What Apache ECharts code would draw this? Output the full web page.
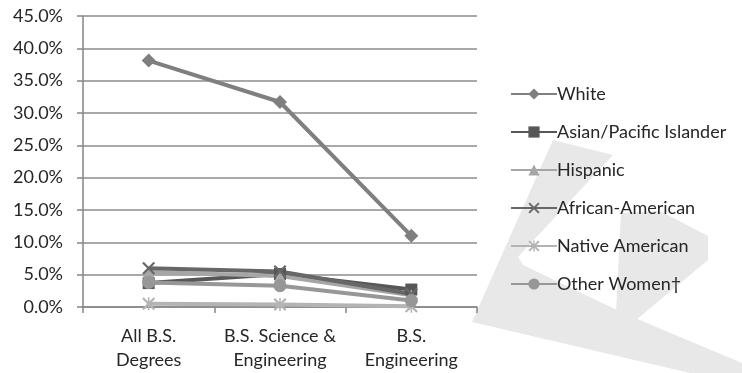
<!DOCTYPE html>
<html>
<head>
<meta charset="utf-8">
<script src="https://cdn.jsdelivr.net/npm/echarts@6/dist/echarts.min.js"></script>
<style>
  html, body { margin: 0; padding: 0; background: #ffffff; }
  #chart { width: 742px; height: 373px; }
</style>
</head>
<body>
<div id="chart"></div>
<script>
// Share of degrees earned by women, by group
const categories = ['All B.S.\nDegrees', 'B.S. Science &\nEngineering', 'B.S.\nEngineering'];
const seriesNames = ['White', 'Asian/Pacific Islander', 'Hispanic', 'African-American', 'Native American', 'Other Women\u2020'];
const white = [38.1, 31.7, 11.0];
const asianPacific = [3.7, 5.1, 2.7];
const hispanic = [5.4, 4.8, 1.8];
const africanAmerican = [6.0, 5.5, 2.0];
const nativeAmerican = [0.5, 0.4, 0.1];
const otherWomen = [3.8, 3.3, 1.0];
const yTicks = { min: 0, max: 45, step: 5 };

const FONT = 'Lato';
const TEXT = '#262626';
const AXIS = '#868686';
const crossPath = 'path://M0,1.2 L1.2,0 L5,3.8 L8.8,0 L10,1.2 L6.2,5 L10,8.8 L8.8,10 L5,6.2 L1.2,10 L0,8.8 L3.8,5 Z';
const starPath = 'path://M0,1.2 L1.2,0 L5,3.8 L8.8,0 L10,1.2 L6.2,5 L10,8.8 L8.8,10 L5,6.2 L1.2,10 L0,8.8 L3.8,5 Z M4.4,0 L5.6,0 L5.6,10 L4.4,10 Z';

function makeSeries(name, data, color, symbol, size) {
  return {
    name: name,
    type: 'line',
    data: data,
    symbol: symbol,
    symbolSize: size,
    showAllSymbol: true,
    lineStyle: { color: color, width: 4 },
    itemStyle: { color: color },
    emphasis: { disabled: true },
    animation: false
  };
}

const chart = echarts.init(document.getElementById('chart'), null, { renderer: 'canvas' });
chart.setOption({
  animation: false,
  textStyle: { fontFamily: FONT },
  // light logo shape in the lower right, behind the legend
  graphic: [
    {
      type: 'polygon', z: -10, silent: true,
      shape: { points: [[472,322],[553,140],[613,155],[518,257],[523,265],[617,310],[635,318],[742,363],[742,373],[690,373]] },
      style: { fill: '#e8e8e8' }
    },
    {
      type: 'polygon', z: -10, silent: true,
      shape: { points: [[616,313],[621,213],[660,211],[708,236],[708,260],[636,320]] },
      style: { fill: '#e8e8e8' }
    }
  ],
  grid: { left: 83, right: 265, top: 16, bottom: 66, containLabel: false },
  xAxis: {
    type: 'category',
    data: categories,
    boundaryGap: true,
    axisLine: { show: true, lineStyle: { color: AXIS, width: 1.5 } },
    axisTick: { show: true, length: 6, alignWithLabel: false, lineStyle: { color: AXIS, width: 1.5 } },
    axisLabel: { color: TEXT, fontSize: 18, fontFamily: FONT, lineHeight: 24, margin: 17, interval: 0 },
    splitLine: { show: false }
  },
  yAxis: {
    type: 'value',
    min: yTicks.min, max: yTicks.max, interval: yTicks.step,
    axisLine: { show: true, lineStyle: { color: AXIS, width: 1.5 } },
    axisTick: { show: true, length: 6, lineStyle: { color: AXIS, width: 1.5 } },
    axisLabel: { color: TEXT, fontSize: 18, fontFamily: FONT, margin: 20, formatter: v => v.toFixed(1) + '%' },
    splitLine: { show: true, lineStyle: { color: '#8c8c8c', width: 1.5 } }
  },
  legend: {
    orient: 'vertical',
    left: 510, top: 84,
    padding: 0,
    itemWidth: 46, itemHeight: 14, itemGap: 18,
    textStyle: { color: TEXT, fontSize: 18, fontFamily: FONT, lineHeight: 20, padding: [0, 0, 0, -5] },
    data: seriesNames
  },
  series: [
    makeSeries(seriesNames[0], white, '#7f7f7f', 'diamond', 14),
    makeSeries(seriesNames[1], asianPacific, '#575757', 'rect', 12),
    makeSeries(seriesNames[2], hispanic, '#a6a6a6', 'triangle', 12),
    makeSeries(seriesNames[3], africanAmerican, '#676767', crossPath, 13),
    makeSeries(seriesNames[4], nativeAmerican, '#b4b4b4', starPath, 13),
    makeSeries(seriesNames[5], otherWomen, '#979797', 'circle', 13)
  ]
});
</script>
</body>
</html>
